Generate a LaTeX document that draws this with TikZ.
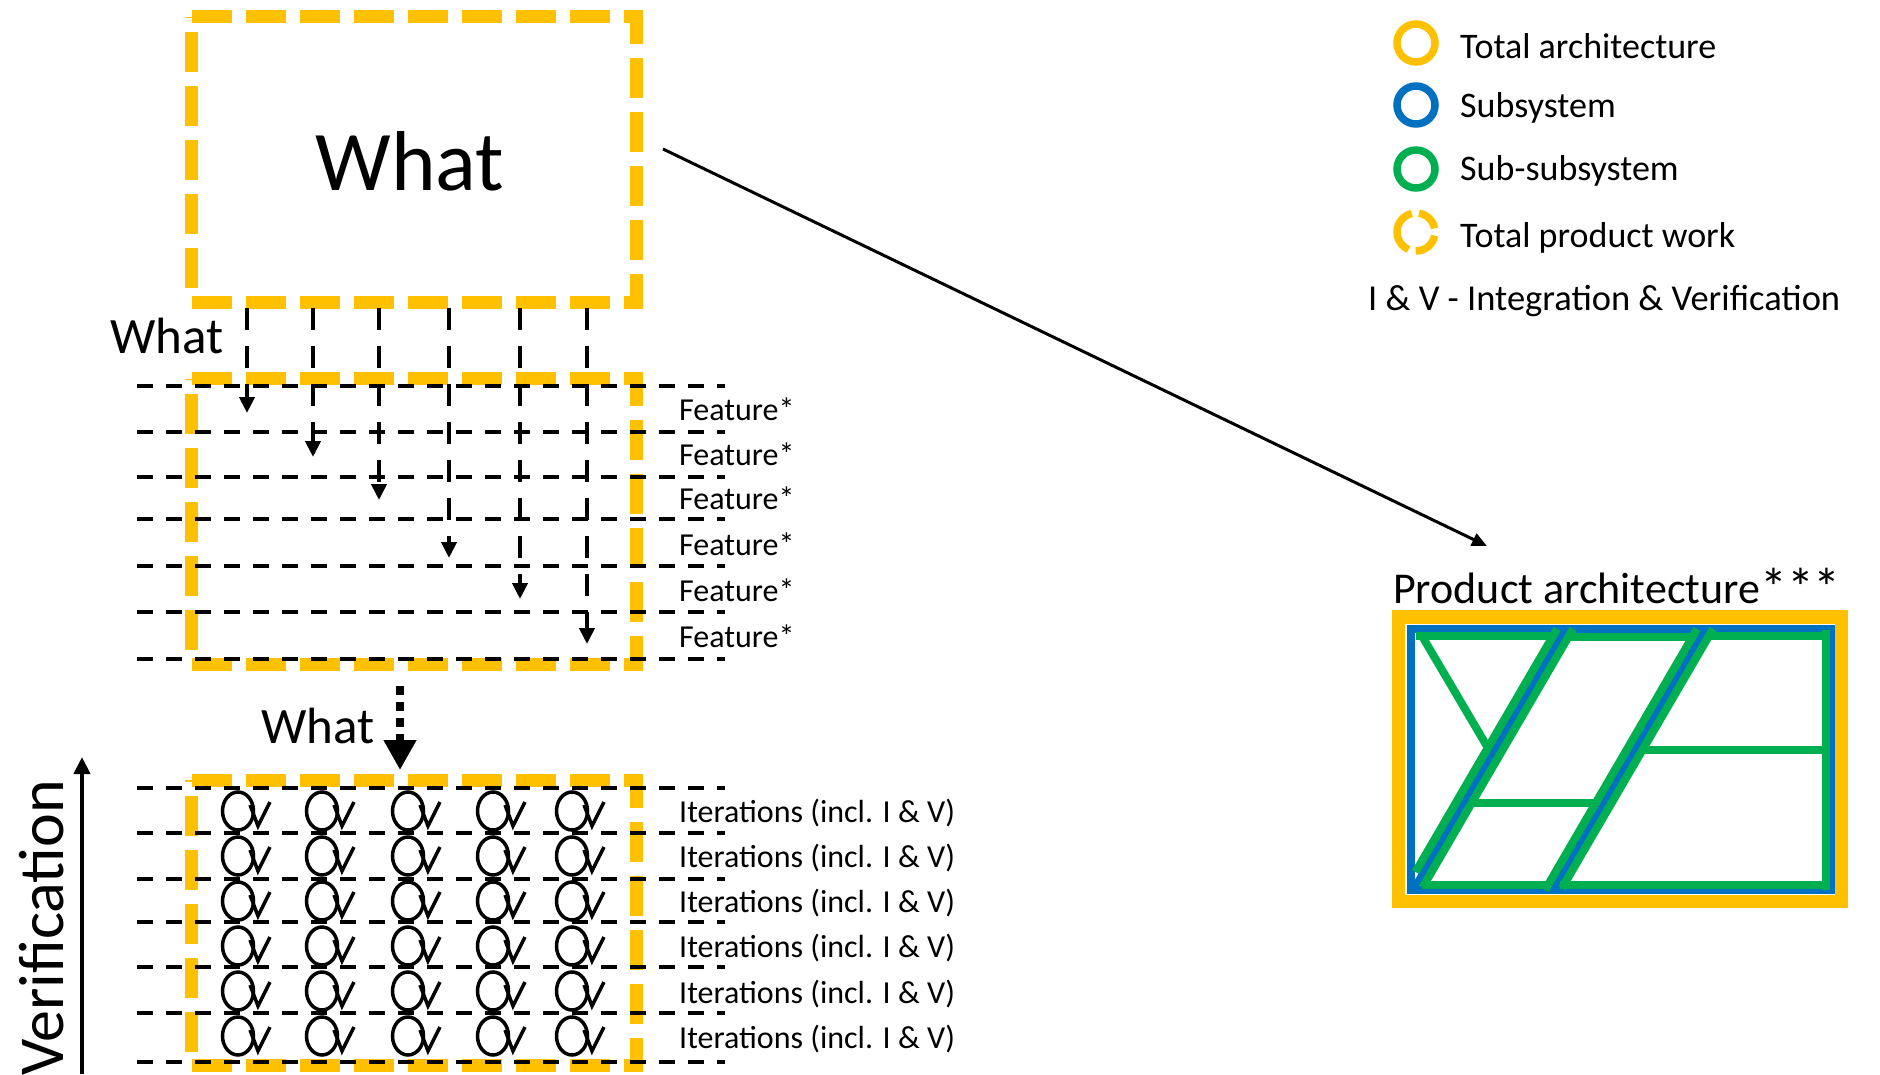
\documentclass[tikz,border=0pt]{standalone}
\usepackage{fontspec}
\setmainfont{Carlito}
\usetikzlibrary{arrows.meta}
\definecolor{orng}{HTML}{FFC000}
\definecolor{blu}{HTML}{0070C0}
\definecolor{grn}{HTML}{00B050}
\begin{document}
\begin{tikzpicture}[x=1pt,y=-1pt,
  boxph/.style={minimum width=444pt, minimum height=285pt, inner sep=0pt, draw=none},
  obox/.style={draw=orng, line width=13pt, dash pattern=on 40pt off 14pt},
  hline/.style={line width=4pt, dash pattern=on 16pt off 13pt},
  varr/.style={line width=4pt, dash pattern=on 22pt off 16pt, -{Triangle[width=15pt,length=16pt]}},
  lbl/.style={inner sep=0pt, anchor=base west, font=\fontsize{32}{38}\selectfont},
  leg/.style={inner sep=0pt, anchor=base west, font=\fontsize{36}{43}\selectfont},
  ringln/.style={line width=7.5pt},
  loopln/.style={line width=3.5pt},
  gl/.style={draw=grn, line width=8pt},
]
\useasboundingbox (0,0) rectangle (1880,1074);

% dashed orange boxes
\node[boxph] (topbox) at (414,159.5) {};
\node[boxph] (midbox) at (414,521.5) {};
\node[boxph] (botbox) at (414,923) {};
\foreach \b in {topbox,midbox,botbox}
  \draw[obox] (\b.north west) -- (\b.north east) -- (\b.south east) -- (\b.south west) -- cycle;

% What labels
\node[inner sep=0pt, anchor=base, font=\fontsize{85}{100}\selectfont] (whatbig) at (410,190) {What};
\node[inner sep=0pt, anchor=base west, font=\fontsize{51}{60}\selectfont] (what1) at (110,353) {What};
\node[inner sep=0pt, anchor=base west, font=\fontsize{51}{60}\selectfont] (what2) at (261,743) {What};

% horizontal dashed lines
\foreach \y in {386,432,477,519,566,612,659,788,833,879,922,967,1013,1062}
  \draw[hline] (137,\y) -- (725,\y);

% vertical dashed arrows
\foreach \x/\t [count=\i] in {247/413,313/457,379/500,449/558,520/599,587/644}{
  \coordinate (vs\i) at (\x,308);
  \coordinate (ve\i) at (\x,\t);
  \draw[varr] (vs\i) -- (ve\i);
}

% feature labels
\foreach \y [count=\i] in {420,465,509,555,601,647}
  \node[lbl] (feat\i) at (679,\y) {Feature*};

% dotted thick arrow
\coordinate (ds) at (400,686);
\coordinate (de) at (400,770);
\draw[line width=8pt, dash pattern=on 9pt off 7pt, -{Triangle[width=31pt,length=30pt]}] (ds) -- (de);

% iteration loops
\foreach \cx in {238,322,408,493,572}
  \foreach \cy in {811,856,901,946,991,1036}{
    \draw[loopln] (\cx,\cy) ellipse[x radius=15.5, y radius=19];
    \draw[loopln] (\cx+12,\cy-6) -- (\cx+20,\cy+15) -- (\cx+32,\cy-9);
  }

% iteration labels
\foreach \y [count=\i] in {822,867,912,957,1003,1048}
  \node[lbl] (iters\i) at (679,\y) {Iterations (incl. I \& V)};

% verification
\node[rotate=90, anchor=base east, inner sep=0pt, font=\fontsize{64}{70}\selectfont] (verif) at (63,780) {Verification};
\coordinate (vb) at (82,1074);
\coordinate (vt) at (82,757);
\draw[line width=4pt, -{Triangle[width=16pt,length=17pt]}] (vb) -- (vt);

% long arrow
\coordinate (la1) at (663,149);
\coordinate (la2) at (1487,546);
\draw[line width=3pt, -{Triangle[width=13pt,length=15pt]}] (la1) -- (la2);

% legend
\draw[ringln, orng] (1416,43) circle[radius=19];
\draw[ringln, blu] (1416,105) circle[radius=19];
\draw[ringln, grn] (1416,169) circle[radius=19];
\draw[ringln, orng] (1416,232) ++(-103:19) arc[start angle=-103, end angle=-247, radius=19];
\draw[ringln, orng] (1416,232) ++(-269:19) arc[start angle=-269, end angle=-349, radius=19];
\draw[ringln, orng] (1416,232) ++(-11:19) arc[start angle=-11, end angle=-81, radius=19];
\node[leg] (l1) at (1460,58) {Total architecture};
\node[leg] (l2) at (1460,117) {Subsystem};
\node[leg] (l3) at (1460,180) {Sub-subsystem};
\node[leg] (l4) at (1460,247) {Total product work};
\node[inner sep=0pt, anchor=base west, font=\fontsize{36.5}{43}\selectfont] (l5) at (1368,310) {I \& V - Integration \& Verification};

% product architecture
\node[inner sep=0pt, anchor=base west, font=\fontsize{44}{52}\selectfont] (patitle) at (1393,603) {Product architecture\raisebox{-3pt}{\fontsize{54}{54}\selectfont ***}};
\draw[orng, line width=13.5pt] (1398.5,617) rectangle (1841.5,901.5);
\draw[blu, line width=8pt] (1411,629) rectangle (1831,890);
\draw[blu, line width=7pt] (1565,629) -- (1413,890);
\draw[blu, line width=7pt] (1705,629) -- (1553,890);
% green sub-subsystems
\draw[gl] (1416,636) -- (1553,636);
\draw[gl] (1422,636) -- (1488,748);
\draw[gl] (1557,629) -- (1415.5,872);
\draw[gl] (1573,629) -- (1422.8,887);
\draw[gl] (1568,637) -- (1692,637);
\draw[gl] (1697,629) -- (1545,890);
\draw[gl] (1713,629) -- (1562,888);
\draw[gl] (1709,636) -- (1826,636);
\draw[gl] (1826,630) -- (1826,890);
\draw[gl] (1641,750) -- (1824,750);
\draw[gl] (1472,803) -- (1595,803);
\draw[gl] (1422,885) -- (1547,885);
\draw[gl] (1560,885) -- (1828,885);
\end{tikzpicture}
\end{document}
